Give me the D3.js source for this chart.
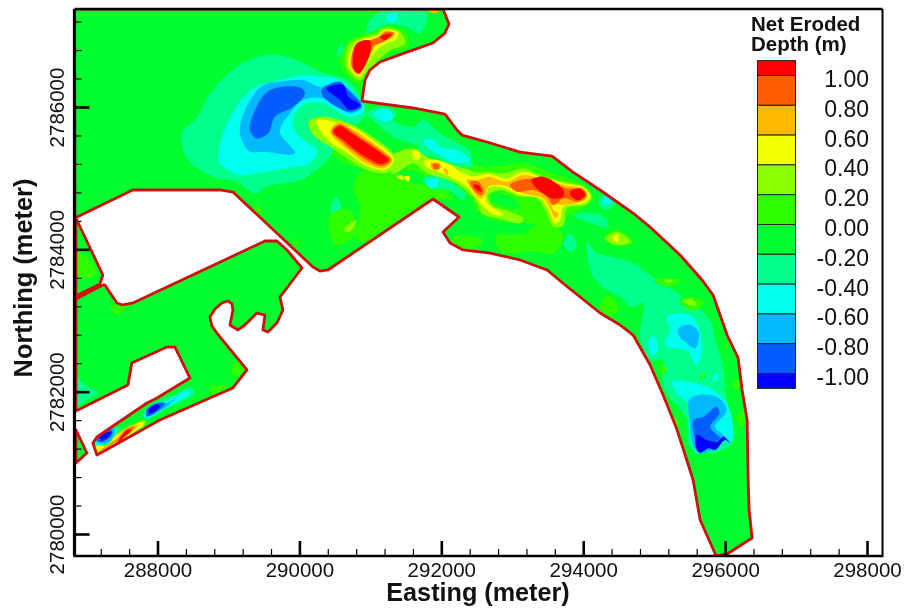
<!DOCTYPE html>
<html><head><meta charset="utf-8">
<script src="https://cdn.jsdelivr.net/npm/d3@7/dist/d3.min.js"></script>
<style>html,body{margin:0;background:#fff}svg{display:block;filter:blur(0.4px)}text{font-family:"Liberation Sans",Arial,sans-serif;fill:#111}</style>
</head><body><div id="c"></div>
<script>
// Map coordinates are metres relative to these origins
const E0 = 286000, N0 = 2780000;
const xMajor = [288000,290000,292000,294000,296000,298000];
const yMajor = [2780000,2782000,2784000,2786000];
const xMinor = [287200,287600,288400,288800,289200,289600,290400,290800,291200,291600,292400,292800,293200,293600,294400,294800,295200,295600,296400,296800,297200,297600];
const yMinor = [2780400,2780800,2781200,2781600,2782400,2782800,2783200,2783600,2784400,2784800,2785200,2785600,2786400,2786800,2787200];
const legendBreaks = [1,0.8,0.6,0.4,0.2,0,-0.2,-0.4,-0.6,-0.8,-1];
const levelColors = ["#ff0000","#ff5d00","#ffb900","#f4ff00","#8cff00","#2eff00","#00ff2e","#00ff8c","#00ffee","#00b9ff","#005dff","#0000ff"];

// Model domain boundaries
const mainDomain = [[830,7377],[6024,7377],[6109,7166],[6053,7039],[5883,6899],[5517,6772],[5136,6632],[4995,6520],[4925,6379],[4882,6084],[5601,5986],[6053,5901],[6222,5677],[6292,5606],[6645,5508],[7110,5367],[7561,5311],[7857,5086],[8238,4834],[8703,4510],[8943,4314],[9366,3920],[9676,3569],[9831,3358],[10029,2796],[10184,2473],[10240,2024],[10311,1602],[10325,759],[10339,337],[10381,-56],[10029,-281],[9874,-309],[9648,197],[9549,759],[9437,1110],[9324,1462],[9126,1953],[8943,2375],[8703,2796],[8520,2937],[8238,3105],[7745,3499],[7491,3710],[7110,3850],[6687,3948],[6306,3991],[6123,4089],[6024,4243],[6250,4454],[5883,4707],[4403,3710],[4290,3695],[4191,3752],[3063,4805],[2880,4834],[1653,4834],[836,4440]];
const harbourDomain = [[850,3302],[1230,3499],[1259,3499],[1428,3246],[1512,3218],[1653,3246],[3515,4117],[3684,4117],[3825,3991],[4036,3738],[3825,3457],[3726,3330],[3768,3147],[3684,2965],[3557,2838],[3486,2867],[3515,3077],[3402,3105],[3233,2937],[3134,2867],[3021,2937],[3063,3147],[3049,3232],[2993,3274],[2908,3246],[2810,3162],[2739,3049],[2767,2923],[2838,2824],[3261,2305],[3063,2052],[2739,1911],[2034,1602],[1146,1110],[1089,1279],[1146,1363],[1851,1841],[1992,1911],[2457,2192],[2246,2627],[2133,2627],[1639,2403],[1583,2094],[850,1728]];
const wedgeDomain = [[850,4440],[1230,3639],[1188,3513],[850,3344]];
const cornerDomain = [[850,1462],[1005,1138],[850,998]];

// Contour patches: [eastings, northings]
const patchesPlus00Under = [
 [[4572,4713,5089,5183,5512,5536,5277,5183,4972,4878,4713],[6613,6941,7082,7152,7035,6847,6754,6660,6449,6309,6402]],
 [[3938,4107,4332,4671,5037,5376,5841,6405,6645,7152,7575,8055,8139,7956,7773,7716,7575,7209,6729,6504,6405,6165,5883,5700,5277,4713,4248,3966],[5859,6000,5915,5775,5536,5297,5255,5213,5157,5213,5072,4876,4693,4553,4454,4314,4300,4370,4412,4553,4735,4791,4876,5072,5114,5185,5494,5719]],
 [[4901,5277,5606,5935,6170,5888,5042,4807,4854,4760],[5114,5114,4927,4880,4693,4693,4131,4131,4599,4880]],
 [[6781,7157,7486,7721,7580,7298,6828],[4201,4224,4412,4177,3943,3967,3967]],
 [[6170,6264,6593,6405,6123],[4177,4201,4130,3990,4060]]
];
const patchesBaseHoles = [
 [[6734,7016,7110,6875,6711],[4786,4716,4576,4599,4693]]
];
const patchesMinus02 = [
 [[2340,2551,2739,3115,3538,3914,4290,4666,4878,4925,4619,4431,4243,4008,3538,3374,3115,2786,2434],[5630,5841,6192,6566,6730,6683,6496,6379,6098,5864,5630,5302,5115,4974,4881,4787,4951,5021,5255]],
 [[4995,5136,5512,5794,5700,5512,5230,4948],[7222,7339,7363,7316,7035,7128,7152,7035]],
 [[4525,4596,4619,4549],[6754,6894,6801,6707]],
 [[4948,5183,5371,5324,5606,5747,5982,6405,6405,6076,5747,5324,5089],[5911,6004,5911,5817,5723,5817,5630,5372,5208,5349,5443,5583,5770]],
 [[5700,5888,6170,6405,6452,6170,5888,5700],[5536,5582,5442,5255,5161,5184,5301,5348]],
 [[5747,5982,6335,6311,6100,5841],[4997,5020,4786,4693,4833,4856]],
 [[4431,4525,4596,4501],[4599,4739,4505,4388]],
 [[7721,7815,7909,7815],[4084,4224,4037,3967]],
 [[7862,8191,8332,8332,8050],[4482,4505,4412,4318,4388]],
 [[8215,8332,8473,8309,8238],[4693,4786,4669,4552,4599]],
 [[8055,8196,8478,8703,8943,9324,9789,9860,9972,10001,10113,10099,9831,9507,9465,9126,9126,8943,8802,8844,8689,8520,8238,8097],[4089,3948,3878,3808,3639,3386,3007,2726,2347,2024,1462,1279,1138,1223,1602,2066,2445,2445,2768,3246,3190,3330,3499,3710]],
 [[2316,2457,2528,2269,1987,1846,1799,1987],[1977,2070,1977,1836,1696,1602,1696,1860]],
 [[1094,1470,1447,1282,1118],[1251,1509,1415,1228,1204]],
 [[850,1023,1165,1000,850],[2188,2070,1977,1883,1790]]
];
const patchesMinus04 = [
 [[2857,2927,3115,3350,3726,4055,4290,4525,4666,4807,4925,4854,4666,4337,4102,3938,3914,4055,4243,4149,3820,3397,3162,2927],[5255,5630,6004,6262,6379,6449,6426,6402,6309,6145,6004,5887,5864,6051,6051,5911,5723,5536,5396,5208,5138,5068,5044,5162]],
 [[5230,5371,5348,5254],[7292,7316,7199,7199]],
 [[5042,5230,5324,5230,5089],[5911,5981,5864,5794,5841]],
 [[5747,5888,5982,6217,6405,6217,5982,5794],[5536,5536,5442,5395,5255,5208,5325,5442]],
 [[5785,5959,5935,5818],[4974,4983,4880,4880]],
 [[8262,8332,8403,8309],[4693,4739,4655,4636]],
 [[9178,9507,9648,9648,9578,9484,9155,9225],[3054,3077,2843,2445,2375,2562,2656,2867]],
 [[8920,9014,9046,8967],[2726,2773,2562,2515]],
 [[9249,9601,9836,10048,10095,9883,9601,9484,9507,9319],[2141,2117,2024,1789,1298,1368,1134,1508,1789,1977]],
 [[9827,9892,9892,9845],[2188,2258,2164,2150]],
 [[2081,2410,2457,2128,1846,1799],[1836,2024,1977,1766,1626,1672]],
 [[1118,1423,1400,1235,1118],[1274,1485,1368,1274,1228]]
];
const patchesMinus06 = [
 [[3162,3280,3491,3726,4055,4290,4525,4666,4878,4737,4525,4337,4055,3867,3726,3938,3491,3303,3186],[5723,6051,6309,6356,6379,6285,6356,6276,6028,5911,6004,6122,6098,5911,5653,5349,5372,5372,5536]],
 [[9343,9507,9625,9578,9437,9357],[2890,2937,2843,2609,2703,2773]],
 [[9507,9883,10024,9860,9977,10071,9977,9860,9648,9554,9507],[1907,1930,1743,1508,1391,1274,1321,1204,1134,1228,1555]],
 [[1893,2175,2316,2128,1846],[1790,1860,1977,1790,1649]],
 [[1118,1376,1400,1329,1188],[1321,1485,1415,1298,1274]]
];
const patchesMinus08 = [
 [[3303,3397,3585,4008,4079,3914,3656,3562,3397],[5677,6004,6239,6276,6192,6004,5864,5630,5559]],
 [[4314,4572,4666,4878,4713,4525,4337],[6239,6356,6262,6004,5934,6004,6145]],
 [[9554,9695,9883,9921,9789,9860,9930,9813,9719,9625,9578],[1602,1649,1789,1696,1508,1415,1345,1274,1181,1157,1321]],
 [[1846,1987,2105,1987,1846],[1743,1836,1836,1719,1658]],
 [[1141,1353,1353,1235,1165],[1345,1462,1392,1298,1298]]
];
const patchesMinus10 = [
 [[4384,4619,4690,4854,4713,4572],[6262,6309,6145,6028,5958,6098]],
 [[9601,9742,9883,9977,10071,10001,9860,9766,9648,9592],[1391,1321,1298,1368,1274,1321,1181,1204,1143,1204]],
 [[1870,1987,2034,1893],[1743,1827,1790,1696]],
 [[1188,1353,1306,1212],[1368,1438,1368,1312]]
];
const patchesPlus00 = [
 [[8285,8473,8708,8473],[4154,4271,4107,4037]],
 [[8238,8356,8497,8379],[3194,3358,3148,3054]],
 [[9366,9507,9695,9601,9413],[3288,3335,3265,3148,3194]],
 [[9014,9366,9249,9084],[3569,3569,3475,3499]],
 [[9084,9178,9108],[2398,2305,2234]],
 [[9648,9742,9672],[2211,2258,2164]],
 [[9977,10071,10001],[2632,2703,2609]],
 [[10095,10189,10189],[2070,2188,2024]],
 [[10165,10283,10306,10236],[1649,1743,1579,1508]],
 [[9272,9366,9319],[1649,1555,1485]],
 [[3045,3115,3233,3068],[2305,2445,2305,2211]],
 [[2739,2974,2786],[2070,2070,1930]],
 [[1329,1611,1423],[3194,3241,3077]],
 [[3350,3468,3421],[4623,4553,4482]],
 [[3938,4008,3914],[4154,4084,4037]],
 [[850,1047,1141,953,850],[3967,3850,3663,3569,3616]],
 [[4431,4713,4783,4502],[4482,4552,4201,4061]]
];
const patchesPlus02 = [
 [[4643,4713,4854,5089,5183,5418,5489,5277,5136,4948,4854,4760],[6613,6894,6964,7035,7105,7058,6894,6801,6683,6496,6379,6426]],
 [[4126,4267,4502,4807,5066,5300,5371,5230,4901,4643,4431,4196],[5793,5863,5840,5723,5559,5372,5231,5077,5137,5301,5442,5606]],
 [[5230,5606,5818,6170,6546,6546,6170,5794,5606,5324],[5255,5419,5279,5185,5021,4740,4951,5068,5208,5068]],
 [[5700,5888,6170,6405,6640,6875,7157,7392,7721,8003,8120,8026,7768,7721,7580,7462,7345,7110,6828,6663,6710,6969,7157,7110,6828,6569,6499,6358,6170,5982,5794,5700],[5325,5255,5114,5067,5091,5067,5137,5044,4950,4880,4739,4622,4575,4341,4318,4552,4716,4739,4833,4763,4622,4529,4435,4365,4435,4505,4669,4833,4974,5067,5137,5208]],
 [[4619,4807,4713],[4271,4412,4248]],
 [[8309,8473,8661,8473],[4154,4248,4107,4060]],
 [[9413,9531,9601,9507],[3279,3297,3218,3218]],
 [[9131,9272,9202],[3569,3569,3532]],
 [[1423,1635,1823,1823,1658,1423,1282,1141,1085,1282],[1415,1532,1602,1532,1415,1251,1157,1096,1228,1251]]
];
const patchesPlus04 = [
 [[4690,4760,4878,5113,5183,5395,5371,5183,5066,4925,4854,4760],[6613,6871,6941,7011,7082,7044,6964,6871,6777,6543,6426,6473]],
 [[4243,4478,4784,5019,5254,5333,5207,4925,4690,4455,4290],[5817,5793,5699,5545,5372,5255,5114,5184,5348,5489,5676]],
 [[5606,5700,5677,5606],[5396,5349,5255,5279]],
 [[5818,6029,6311,6546,6546,6311,6029,5818],[5255,5232,5068,4951,4787,4951,5115,5138]],
 [[5371,5442,5465],[5021,5044,4974]],
 [[5465,5559,5536],[5021,5021,4951]],
 [[5770,5935,6170,6405,6664,6922,7157,7392,7721,8003,8097,8003,7721,7674,7604,7510,7392,7110,6828,6664,6640,6875,6758,6593,6476,6358,6123,5888,5770],[5255,5231,5091,5020,5058,4997,5091,5020,4927,4871,4739,4646,4599,4412,4365,4552,4716,4763,4880,4856,4669,4482,4482,4599,4739,4880,5020,5114,5184]],
 [[8417,8482,8497,8435],[4177,4215,4107,4121]],
 [[1400,1588,1799,1799,1658,1423,1259,1118,1118,1306],[1368,1485,1579,1532,1424,1274,1171,1134,1228,1251]]
];
const patchesPlus06 = [
 [[5794,5982,5912],[7363,7363,7316]],
 [[4713,4793,4901,5113,5207,5348,5230,5089,5019,4901,4831,4751],[6613,6871,6918,6988,7072,7035,6941,6871,6777,6520,6449,6520]],
 [[4431,4549,4769,4995,5230,5315,5183,4939,4713,4572],[5653,5784,5676,5526,5348,5255,5137,5208,5372,5489]],
 [[5865,5982,5959,5865],[5208,5185,5115,5138]],
 [[6029,6100,6076],[5138,5115,5044]],
 [[6358,6499,6664,6922,7157,7392,7721,8003,8050,7956,7698,7557,7580,7651,7604,7533,7439,7157,6828,6664,6617,6546,6452],[4974,4974,5020,4950,5044,4997,4903,4842,4739,4669,4622,4646,4552,4505,4435,4575,4716,4786,4903,4880,4763,4716,4810]],
 [[5841,5982,5982,5888],[5208,5208,5137,5114]],
 [[6029,6100,6076],[5114,5091,5044]],
 [[1423,1564,1729,1658,1423,1282,1165],[1345,1485,1532,1452,1298,1204,1157]]
];
const patchesPlus08 = [
 [[4732,4798,4948,5127,5216,5333,5192,5051,4995,4901,4831,4760],[6613,6880,6922,6988,7054,7030,6918,6861,6754,6534,6463,6534]],
 [[4455,4563,4751,4972,5207,5286,5169,4957,4737,4596],[5653,5756,5653,5503,5339,5255,5170,5245,5395,5512]],
 [[6405,6523,6593,6570,6476],[4950,4950,4833,4763,4810]],
 [[6969,7110,7298,7486,7768,7980,8050,7932,7721,7580,7486,7298,7063],[4903,4974,4997,4997,4857,4857,4763,4669,4716,4622,4739,4833,4810]],
 [[5879,5973,5963,5897],[5198,5194,5133,5128]],
 [[1447,1564,1681,1611,1423,1291,1212],[1345,1471,1509,1438,1312,1228,1181]]
];
const patchesPlus10 = [
 [[4751,4807,4995,4995,4901,4831,4760],[6613,6894,6932,6754,6543,6473,6543]],
 [[5136,5300,5207],[6988,7025,6941]],
 [[4478,4572,4737,4948,5183,5254,5160,4972,4760,4619],[5653,5732,5629,5489,5325,5255,5198,5278,5418,5536]],
 [[7275,7439,7721,7721,7557,7439,7298],[4974,5020,4833,4739,4716,4786,4903]],
 [[7815,7956,8027,7932,7839],[4810,4847,4763,4692,4739]],
 [[6452,6523,6570,6499],[4903,4903,4810,4833]],
 [[1470,1555,1635,1541,1400],[1345,1452,1462,1368,1251]]
];

const W = 907, H = 612;
const x = d3.scaleLinear().domain([288000,298000]).range([157.5,867]);
const y = d3.scaleLinear().domain([2780000,2786000]).range([534,107]);
const left = 74.5, right = 882.5, top_ = 9, bottom = 556;
const svg = d3.select("#c").append("svg").attr("width",W).attr("height",H);
const pt = p => [x(E0+p[0]), y(N0+p[1])];
const domains = [mainDomain,harbourDomain,wedgeDomain,cornerDomain];
const lineEdge = d3.line().curve(d3.curveLinearClosed);
const lineSmooth = d3.line().curve(d3.curveCatmullRomClosed.alpha(0.5));
const domainPath = d => lineEdge(d.map(pt));

svg.append("clipPath").attr("id","dom").selectAll("path").data(domains).join("path").attr("d",domainPath);
svg.append("clipPath").attr("id","plot").append("rect").attr("x",left).attr("y",top_).attr("width",right-left).attr("height",bottom-top_);
const plot = svg.append("g").attr("clip-path","url(#plot)");
plot.selectAll("path.base").data(domains).join("path").attr("class","base").attr("d",domainPath).attr("fill",levelColors[6]);

const layers = [
 [patchesPlus00Under,5],[patchesBaseHoles,6],
 [patchesMinus02,7],[patchesMinus04,8],[patchesMinus06,9],[patchesMinus08,10],[patchesMinus10,11],
 [patchesPlus00,5],[patchesPlus02,4],[patchesPlus04,3],[patchesPlus06,2],[patchesPlus08,1],[patchesPlus10,0]
];
const fieldG = plot.append("g").attr("clip-path","url(#dom)");
layers.forEach(([rings,lvl])=>{
  fieldG.append("g").selectAll("path").data(rings).join("path")
   .attr("d",r=>lineSmooth(d3.zip(r[0],r[1]).map(pt)))
   .attr("fill",levelColors[lvl]);
});
plot.selectAll("path.edge").data(domains).join("path").attr("class","edge").attr("d",domainPath)
  .attr("fill","none").attr("stroke","#cf1010").attr("stroke-width",2.8).attr("stroke-linejoin","round");

// axes
const fs = "20.5px";
function styleAxis(g,w){ g.select(".domain").remove(); g.selectAll("line").attr("stroke","#000").attr("stroke-width",w); }
const xAxisMin = d3.axisBottom(x).tickValues(xMinor).tickSize(-7).tickFormat("");
const xAxisMaj = d3.axisBottom(x).tickValues(xMajor).tickSize(-15).tickPadding(6).tickFormat(d3.format("d"));
const yAxisMin = d3.axisLeft(y).tickValues(yMinor).tickSize(-7).tickFormat("");
const yAxisMaj = d3.axisLeft(y).tickValues(yMajor).tickSize(-15).tickFormat(d3.format("d"));
svg.append("g").attr("transform",`translate(0,${bottom})`).call(xAxisMin).call(g=>styleAxis(g,1.2));
svg.append("g").attr("transform",`translate(0,${bottom})`).call(xAxisMaj).call(g=>styleAxis(g,2.6))
   .selectAll("text").attr("y",21).attr("dy",0).style("font-size",fs).attr("fill","#111");
svg.append("g").attr("transform",`translate(${left},0)`).call(yAxisMin).call(g=>styleAxis(g,1.2));
svg.append("g").attr("transform",`translate(${left},0)`).call(yAxisMaj).call(g=>styleAxis(g,2.6))
   .selectAll("text").attr("x",0).attr("y",0).attr("dy",0).attr("text-anchor","middle")
   .attr("transform","translate(-11,0) rotate(-90)").style("font-size",fs).attr("fill","#111");
svg.append("path").attr("d",`M${left},${top_}H${right}`).attr("stroke","#000").attr("stroke-width",2.4).attr("fill","none");
svg.append("path").attr("d",`M${right},${top_}V${bottom}`).attr("stroke","#000").attr("stroke-width",2).attr("fill","none");
svg.append("path").attr("d",`M${left},${top_}V${bottom}`).attr("stroke","#000").attr("stroke-width",3.2).attr("fill","none");
svg.append("path").attr("d",`M${left-1},${bottom}H${right+1}`).attr("stroke","#000").attr("stroke-width",2.6).attr("fill","none");

svg.append("text").attr("x",478).attr("y",601).attr("text-anchor","middle").attr("font-weight","bold").style("font-size","25.2px").text("Easting (meter)");
svg.append("text").attr("transform","translate(32,278) rotate(-90)").attr("text-anchor","middle").attr("font-weight","bold").style("font-size","25.4px").text("Northing (meter)");

// legend
const ly = d3.scaleLinear().domain([1,-1]).range([75.5,373.5]);
const edges = [1.1,...legendBreaks,-1.1];
const lg = svg.append("g");
lg.selectAll("rect").data(levelColors).join("rect")
  .attr("x",757.5).attr("width",38)
  .attr("y",(d,i)=>ly(edges[i])).attr("height",(d,i)=>ly(edges[i+1])-ly(edges[i]))
  .attr("fill",d=>d).attr("stroke","#222").attr("stroke-width",1);
lg.selectAll("text.l").data(legendBreaks).join("text").attr("class","l")
  .attr("x",869).attr("y",d=>ly(d)+11.5).attr("text-anchor","end").style("font-size","23px")
  .text(d=>d.toFixed(2));
svg.append("text").attr("x",751).attr("y",31).attr("font-weight","bold").style("font-size","20.5px").text("Net Eroded");
svg.append("text").attr("x",751).attr("y",51).attr("font-weight","bold").style("font-size","20.5px").text("Depth (m)");
</script></body></html>
